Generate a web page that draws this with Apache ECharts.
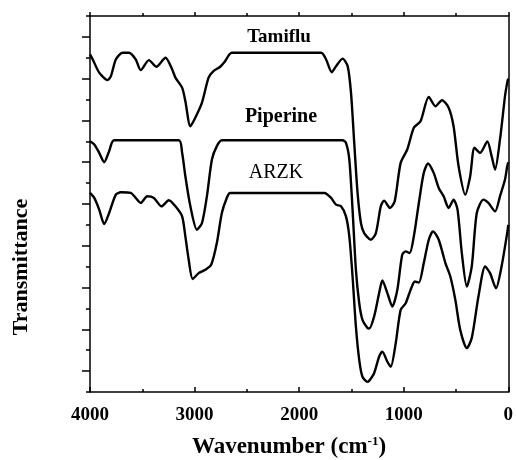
<!DOCTYPE html>
<html>
<head>
<meta charset="utf-8">
<script src="https://cdn.jsdelivr.net/npm/echarts@6/dist/echarts.min.js"></script>
<style>
  html, body { margin: 0; padding: 0; background: #fff; }
  #chart { width: 516px; height: 460px; }
</style>
</head>
<body>
<div id="chart"></div>
<script>
// wavenumber (cm-1), transmittance in arbitrary offset units
const tamiflu = [
  [4000, 16.16], [3974, 15.92], [3912, 15.29], [3832, 14.93], [3800, 15.12], [3753, 15.92],
  [3689, 16.24], [3627, 16.24], [3563, 15.92], [3515, 15.41], [3437, 15.89], [3366, 15.57],
  [3278, 16.0], [3214, 15.44], [3183, 15.05], [3119, 14.57], [3088, 13.92], [3040, 12.72],
  [2993, 13.13], [2929, 13.85], [2866, 15.05], [2819, 15.36], [2755, 15.57], [2708, 15.84],
  [2644, 16.24], [1789, 16.24], [1742, 15.92], [1688, 15.31], [1647, 15.6], [1584, 15.96],
  [1536, 15.6], [1504, 14.33], [1473, 11.93], [1441, 9.53], [1409, 8.09], [1378, 7.61],
  [1314, 7.29], [1266, 7.61], [1219, 8.89], [1188, 9.16], [1131, 8.81], [1086, 9.13],
  [1029, 10.97], [966, 11.61], [903, 12.65], [839, 12.96], [760, 14.13], [696, 13.68],
  [634, 13.97], [570, 13.61], [523, 12.72], [475, 10.81], [411, 9.45], [364, 10.33],
  [323, 11.69], [269, 11.45], [200, 12.0], [159, 11.29], [126, 10.65], [79, 12.09],
  [31, 14.16], [10, 14.81], [0, 15.0]
];
const piperine = [
  [4000, 12.0], [3959, 11.85], [3912, 11.45], [3864, 11.0], [3817, 11.53], [3769, 12.05],
  [3151, 12.05], [3119, 11.45], [3088, 10.33], [3040, 8.89], [2977, 7.77], [2929, 8.09],
  [2882, 9.37], [2834, 11.13], [2787, 11.77], [2739, 12.05], [1584, 12.05], [1552, 11.93],
  [1520, 11.13], [1489, 8.73], [1457, 5.85], [1425, 4.25], [1394, 3.45], [1346, 3.06],
  [1330, 3.04], [1283, 3.61], [1235, 4.73], [1204, 5.34], [1156, 4.73], [1109, 4.09],
  [1061, 4.89], [1014, 6.57], [981, 6.73], [943, 6.65], [903, 7.45], [855, 9.05],
  [808, 10.49], [767, 10.94], [713, 10.49], [665, 9.77], [618, 9.37], [570, 8.81],
  [523, 9.21], [485, 8.73], [444, 6.65], [396, 5.05], [349, 6.01], [301, 8.57],
  [238, 9.21], [190, 9.05], [126, 8.65], [79, 9.37], [31, 10.17], [10, 10.81], [0, 11.0]
];
const arzk = [
  [4000, 9.53], [3959, 9.29], [3912, 8.73], [3864, 8.04], [3817, 8.57], [3753, 9.45],
  [3705, 9.56], [3610, 9.53], [3563, 9.29], [3515, 9.05], [3452, 9.37], [3389, 9.29],
  [3316, 8.89], [3246, 9.18], [3183, 8.89], [3119, 8.41], [3088, 7.45], [3056, 6.33],
  [3018, 5.41], [2961, 5.69], [2898, 5.85], [2841, 6.09], [2787, 7.13], [2739, 8.57],
  [2692, 9.29], [2660, 9.53], [1758, 9.53], [1694, 9.29], [1647, 8.97], [1599, 8.89],
  [1552, 8.41], [1520, 7.45], [1489, 5.53], [1457, 3.13], [1425, 1.53], [1394, 0.73],
  [1346, 0.49], [1330, 0.54], [1283, 0.9], [1235, 1.69], [1204, 1.93], [1156, 1.45],
  [1124, 1.21], [1076, 2.34], [1029, 3.93], [981, 4.25], [934, 4.89], [893, 5.29],
  [855, 5.24], [808, 6.17], [760, 7.29], [719, 7.69], [665, 7.29], [601, 6.17],
  [554, 5.53], [506, 4.41], [459, 2.97], [396, 2.1], [349, 2.58], [285, 4.57],
  [221, 6.01], [174, 5.69], [117, 4.97], [64, 6.01], [10, 7.61], [0, 8.0]
];
const seriesNames = ['Tamiflu', 'Piperine', 'ARZK'];

const chart = echarts.init(document.getElementById('chart'));
const serif = '"Liberation Serif", "Times New Roman", serif';

function lineSeries(name, data) {
  return {
    name: name,
    type: 'line',
    data: data,
    smooth: 0.25,
    showSymbol: false,
    lineStyle: { color: '#000', width: 2.4 }
  };
}

chart.setOption({
  animation: false,
  grid: { left: 90, right: 6, top: 16, bottom: 68 },
  xAxis: [{
    type: 'value',
    inverse: true,
    min: 0,
    max: 4000,
    interval: 1000,
    axisLine: { onZero: false, lineStyle: { color: '#000', width: 1.5 } },
    axisTick: { inside: true, length: 5, lineStyle: { color: '#000', width: 1.5 } },
    minorTick: { show: true, splitNumber: 2, length: 3, lineStyle: { color: '#000', width: 1.5 } },
    axisLabel: {
      color: '#000', fontFamily: serif, fontWeight: 'bold', fontSize: 19, margin: 14,
      formatter: function (v) { return String(v); }
    },
    splitLine: { show: false }
  }, {
    type: 'value',
    position: 'top',
    inverse: true,
    min: 0,
    max: 4000,
    interval: 1000,
    axisLine: { onZero: false, lineStyle: { color: '#000', width: 1.5 } },
    axisTick: { length: 4, lineStyle: { color: '#000', width: 1.5 } },
    minorTick: { show: true, splitNumber: 2, length: 3, lineStyle: { color: '#000', width: 1.5 } },
    axisLabel: { show: false },
    splitLine: { show: false }
  }],
  yAxis: [{
    type: 'value',
    position: 'left',
    min: 0,
    max: 18,
    interval: 2,
    axisLine: { show: true, onZero: false, lineStyle: { color: '#000', width: 1.5 } },
    axisTick: { show: true, length: 4, lineStyle: { color: '#000', width: 1.5 } },
    minorTick: { show: true, splitNumber: 2, length: 8, lineStyle: { color: '#000', width: 1.5 } },
    axisLabel: { show: false },
    splitLine: { show: false }
  }, {
    type: 'value',
    position: 'right',
    min: 0,
    max: 18,
    interval: 2,
    axisLine: { show: true, onZero: false, lineStyle: { color: '#000', width: 1.5 } },
    axisTick: { show: false },
    axisLabel: { show: false },
    splitLine: { show: false }
  }],
  series: [
    lineSeries(seriesNames[0], tamiflu),
    lineSeries(seriesNames[1], piperine),
    lineSeries(seriesNames[2], arzk)
  ],
  graphic: [
    { type: 'text', x: 279, y: 37, style: { text: seriesNames[0], font: 'bold 19px ' + serif, fill: '#000', align: 'center', verticalAlign: 'middle' } },
    { type: 'text', x: 281, y: 117, style: { text: seriesNames[1], font: 'bold 20px ' + serif, fill: '#000', align: 'center', verticalAlign: 'middle' } },
    { type: 'text', x: 276, y: 173, style: { text: seriesNames[2], font: '20px ' + serif, fill: '#000', align: 'center', verticalAlign: 'middle' } },
    {
      type: 'text', x: 21, y: 267, rotation: Math.PI / 2,
      style: { text: 'Transmittance', font: 'bold 22px ' + serif, fill: '#000', align: 'center', verticalAlign: 'middle' }
    },
    {
      type: 'text', x: 289, y: 447,
      style: {
        text: '{a|Wavenumber (cm}{s|-1}{a|)}',
        align: 'center', verticalAlign: 'middle',
        rich: {
          a: { font: 'bold 23px ' + serif, fill: '#000', verticalAlign: 'bottom' },
          s: { font: 'bold 13px ' + serif, fill: '#000', verticalAlign: 'top' }
        }
      }
    }
  ]
});
</script>
</body>
</html>
